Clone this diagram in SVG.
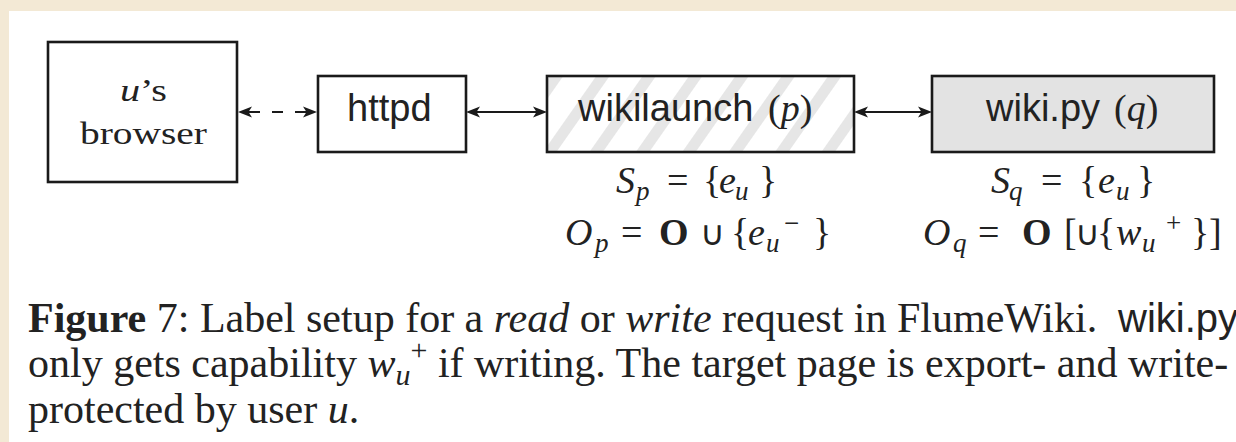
<svg xmlns="http://www.w3.org/2000/svg" width="1236" height="442" viewBox="0 0 1236 442">
  <style>
    .box { stroke: #1a1a1a; stroke-width: 2.6; }
    .sans { font-family: "Liberation Sans", Arial, sans-serif; fill: #222; }
    .serif { font-family: "Liberation Serif", "Times New Roman", serif; fill: #222; }
    .it { font-style: italic; }
    .bf { font-weight: bold; }
    .conn { stroke: #1a1a1a; stroke-width: 2.2; fill: none; }
  </style>
  <defs>
    <pattern id="hatch" patternUnits="userSpaceOnUse" width="38" height="38" patternTransform="rotate(35)">
      <rect width="38" height="38" fill="#ffffff"/>
      <rect x="0" y="0" width="11" height="38" fill="#e6e6e6"/>
    </pattern>
    <marker id="ah" viewBox="-12 -7 18 14" refX="0" refY="0" markerWidth="18" markerHeight="14" markerUnits="userSpaceOnUse" orient="auto-start-reverse">
      <path d="M5,0 L-9,-5.6 L-5.5,0 L-9,5.6 Z" fill="#1a1a1a"/>
    </marker>
  </defs>

  <!-- page backdrop and white sheet -->
  <rect x="0" y="0" width="1236" height="442" fill="#f3e9d5"/>
  <rect x="9" y="11" width="1227" height="431" fill="#ffffff"/>

  <!-- connectors -->
  <g id="connectors">
    <path class="conn" d="M243,112 H312" stroke-dasharray="17 12 11 12 17 40" marker-start="url(#ah)" marker-end="url(#ah)"/>
    <path class="conn" d="M471,112 H542" marker-start="url(#ah)" marker-end="url(#ah)"/>
    <path class="conn" d="M859,112 H927" marker-start="url(#ah)" marker-end="url(#ah)"/>
  </g>

  <!-- user's browser -->
  <g id="browser">
    <rect class="box" x="48" y="42" width="189" height="140" fill="#ffffff"/>
    <text class="serif" x="120" y="101" font-size="31" textLength="47" lengthAdjust="spacingAndGlyphs"><tspan class="it">u</tspan>’s</text>
    <text class="serif" x="80" y="144" font-size="31" textLength="127" lengthAdjust="spacingAndGlyphs">browser</text>
  </g>

  <!-- httpd -->
  <g id="httpd">
    <rect class="box" x="318" y="76" width="148" height="76" fill="#ffffff"/>
    <text class="sans" x="347" y="121" font-size="38">httpd</text>
  </g>

  <!-- wikilaunch (p) with its labels -->
  <g id="wikilaunch">
    <rect class="box" x="547" y="76" width="307" height="76" fill="url(#hatch)"/>
    <text class="sans" x="578" y="121" font-size="38">wikilaunch</text>
    <text class="serif" x="768" y="121" font-size="38">(<tspan class="it">p</tspan>)</text>
    <text class="serif" y="193" font-size="38">
      <tspan class="it" x="616">S</tspan><tspan class="it" x="636" y="200" font-size="27">p</tspan><tspan x="667" y="193">=</tspan><tspan x="703">{</tspan><tspan class="it" x="719">e</tspan><tspan class="it" x="735" y="200" font-size="27">u</tspan><tspan x="759" y="193">}</tspan>
    </text>
    <text class="serif" y="245" font-size="38">
      <tspan class="it" x="565">O</tspan><tspan class="it" x="595" y="252" font-size="27">p</tspan><tspan x="621" y="245">=</tspan><tspan class="bf" x="659">O</tspan><tspan x="700" font-size="34">∪</tspan><tspan x="731">{</tspan><tspan class="it" x="748">e</tspan><tspan class="it" x="766" y="252" font-size="27">u</tspan><tspan x="784" y="232" font-size="27">−</tspan><tspan x="813" y="245">}</tspan>
    </text>
  </g>

  <!-- wiki.py (q) with its labels -->
  <g id="wikipy">
    <rect class="box" x="932" y="76" width="282" height="76" fill="#e3e3e3"/>
    <text class="sans" x="986" y="121" font-size="38">wiki.py</text>
    <text class="serif" x="1114" y="121" font-size="38">(<tspan class="it">q</tspan>)</text>
    <text class="serif" y="193" font-size="38">
      <tspan class="it" x="991">S</tspan><tspan class="it" x="1009" y="200" font-size="27">q</tspan><tspan x="1041" y="193">=</tspan><tspan x="1079">{</tspan><tspan class="it" x="1098">e</tspan><tspan class="it" x="1116" y="200" font-size="27">u</tspan><tspan x="1137" y="193">}</tspan>
    </text>
    <text class="serif" y="245" font-size="38">
      <tspan class="it" x="923">O</tspan><tspan class="it" x="953" y="252" font-size="27">q</tspan><tspan x="978" y="245">=</tspan><tspan class="bf" x="1022">O</tspan><tspan x="1064">[</tspan><tspan x="1075" font-size="34">∪</tspan><tspan x="1097">{</tspan><tspan class="it" x="1116">w</tspan><tspan class="it" x="1142" y="252" font-size="27">u</tspan><tspan x="1166" y="232" font-size="27">+</tspan><tspan x="1191" y="245">}</tspan><tspan x="1209">]</tspan>
    </text>
  </g>

  <!-- caption -->
  <g id="caption" class="serif" font-size="42">
    <text x="28" y="332"><tspan class="bf">Figure</tspan> 7: Label setup for a <tspan class="it">read</tspan> or <tspan class="it">write</tspan> request in FlumeWiki.</text>
    <text class="sans" x="1118" y="332" font-size="40">wiki.py</text>
    <text x="28" y="377">only gets capability <tspan class="it">w</tspan><tspan class="it" font-size="30" dy="8">u</tspan><tspan font-size="30" dy="-25">+</tspan><tspan dy="17"> if writing. The target page is export- and write-</tspan></text>
    <text x="28" y="423">protected by user <tspan class="it">u</tspan>.</text>
  </g>
</svg>
